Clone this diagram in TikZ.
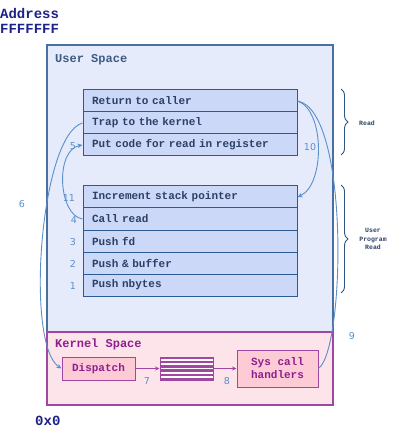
\documentclass[tikz,border=0pt]{standalone}
\usepackage{fontspec}
\setmonofont{Liberation Mono}
\newfontfamily\numfont{DejaVu Sans}
\usetikzlibrary{arrows.meta,decorations.pathreplacing}
\definecolor{addrnavy}{HTML}{1E2288}
\definecolor{userfill}{HTML}{E6EBFC}
\definecolor{userline}{HTML}{4A70A0}
\definecolor{usertext}{HTML}{3D5A82}
\definecolor{rowfill}{HTML}{CBD8F8}
\definecolor{rowline}{HTML}{2C5A94}
\definecolor{rowtext}{HTML}{2C3F66}
\definecolor{kernfill}{HTML}{FDE3EA}
\definecolor{kernline}{HTML}{A0479F}
\definecolor{kerntext}{HTML}{8E1F8E}
\definecolor{boxfill}{HTML}{FCCBD6}
\definecolor{flowblue}{HTML}{5B8FC9}
\definecolor{bracecol}{HTML}{2F5587}
\tikzset{
  rowbox/.style={draw=rowline, fill=rowfill, line width=1pt, minimum width=214pt,
    minimum height=22pt, text width=196pt, inner xsep=9pt, inner ysep=0pt, align=left,
    font=\ttfamily\bfseries\fontsize{11}{13}\selectfont, text=rowtext},
  kbox/.style={draw=kernline, fill=boxfill, line width=1pt, inner sep=0pt, align=center,
    font=\ttfamily\bfseries\fontsize{11}{13}\selectfont, text=kerntext},
  steplabel/.style={font=\numfont\fontsize{9.5}{11}\selectfont, text=flowblue, inner sep=0pt},
  flow/.style={draw=flowblue, line width=0.9pt, -{Stealth[length=5pt,width=4.5pt]}},
  flowplain/.style={draw=flowblue, line width=0.9pt},
  kflow/.style={draw=kernline, line width=0.9pt, -{Stealth[length=4.5pt,width=4pt]}},
  bracepath/.style={draw=bracecol, line width=0.9pt,
    decorate, decoration={brace, amplitude=7pt, aspect=0.5}},
  bracetext/.style={font=\ttfamily\bfseries\fontsize{6.5}{8.5}\selectfont, text=rowtext,
    align=center, inner sep=0pt},
}
\begin{document}
\begin{tikzpicture}[x=1pt, y=-1pt]
\useasboundingbox (0,0) rectangle (392,427);

% address labels
\node[anchor=north west, inner sep=0pt, align=left, text=addrnavy,
  font=\ttfamily\bfseries\fontsize{14}{15}\selectfont] (addrtop) at (0,8) {Address\\FFFFFFF};
\node[anchor=west, inner sep=0pt, text=addrnavy,
  font=\ttfamily\bfseries\fontsize{14}{15}\selectfont] (addrbot) at (35,421) {0x0};

% address space regions
\node[draw=userline, fill=userfill, line width=1.2pt, minimum width=286pt, minimum height=287pt,
  inner sep=0pt] (user) at (190,188.5) {};
\node[draw=kernline, fill=kernfill, line width=1.2pt, minimum width=286pt, minimum height=73pt,
  inner sep=0pt] (kernel) at (190,368.5) {};
\node[anchor=west, inner sep=0pt, text=usertext,
  font=\ttfamily\bfseries\fontsize{12}{14}\selectfont] (userlbl) at (55,60) {User Space};
\node[anchor=west, inner sep=0pt, text=kerntext,
  font=\ttfamily\bfseries\fontsize{12}{14}\selectfont] (kernlbl) at (55,344) {Kernel Space};

% library procedure read
\node[rowbox] (ret)  at (190,101) {Return to caller};
\node[rowbox] (trap) at (190,123) {Trap to the kernel};
\node[rowbox] (put)  at (190,145) {Put code for read in register};

% user program
\node[rowbox] (inc)   at (190,197) {Increment stack pointer};
\node[rowbox] (callr) at (190,219) {Call read};
\node[rowbox] (pfd)   at (190,241) {Push fd};
\node[rowbox] (pbuf)  at (190,263) {Push \& buffer};
\node[rowbox] (pnb)   at (190,285) {Push nbytes};

% kernel side
\node[kbox, minimum width=73pt, minimum height=23pt] (disp) at (98.5,368.5) {Dispatch};
\node[draw=kernline, fill=white, line width=1pt, minimum width=53pt, minimum height=23pt,
  inner sep=0pt,
  path picture={
    \foreach \k in {0,...,5}
      \fill[kernline] ([yshift=-\k*4.16pt]path picture bounding box.north west)
        rectangle ++(60pt,-2.2pt);
  }] (table) at (186.5,368.5) {};
\node[kbox, minimum width=81pt, minimum height=37pt] (sys) at (277.5,368.5) {Sys call\\handlers};

\draw[kflow] (disp) -- (table);
\draw[kflow] (table) -- (sys);

% numbered flow of control
\draw[flow] (callr.west) .. controls (58,215) and (55,150) .. (put.west);
\draw[flow] (trap.west) .. controls (40,135) and (25,345) .. (disp.west);
\draw[flowplain] (sys.east) .. controls (345,350) and (350,110) .. (ret.east);
\draw[flow] (ret.east) .. controls (325,110) and (325,185) .. (inc.east);

\node[steplabel] (n1)  at (73,286) {1};
\node[steplabel] (n2)  at (73,264) {2};
\node[steplabel] (n3)  at (73,242) {3};
\node[steplabel] (n4)  at (74,220) {4};
\node[steplabel] (n5)  at (73,146) {5};
\node[steplabel] (n6)  at (22,204) {6};
\node[steplabel] (n7)  at (147,381) {7};
\node[steplabel] (n8)  at (227,381) {8};
\node[steplabel] (n9)  at (352,336) {9};
\node[steplabel] (n10) at (310,147) {10};
\node[steplabel] (n11) at (69,198) {11};

% braces
\coordinate (b1top) at (341,89);
\coordinate (b1bot) at (341,155);
\coordinate (b2top) at (341,185);
\coordinate (b2bot) at (341,293);
\draw[bracepath] (b1top) -- (b1bot);
\draw[bracepath] (b2top) -- (b2bot);
\node[bracetext, anchor=west] (readlbl) at (359,123) {Read};
\node[bracetext] (uprlbl) at (373,239) {User\\Program\\Read};
\end{tikzpicture}
\end{document}
